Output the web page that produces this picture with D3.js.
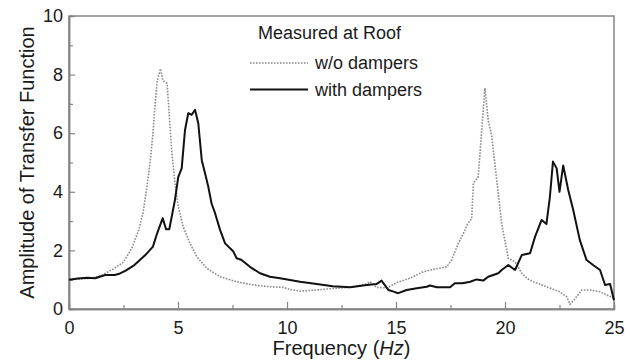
<!DOCTYPE html>
<html>
<head>
<meta charset="utf-8">
<script src="https://cdn.jsdelivr.net/npm/d3@7"></script>
<style>
  body { margin: 0; background: #fff; }
  text { font-family: "Liberation Sans", Arial, sans-serif; fill: #1a1a1a; }
</style>
</head>
<body>
<div id="chart"></div>
<script>
const FRAME_HEIGHT = 362;
const FRAME_WIDTH = 639;
const MARGINS = {left: 69, right: 25, top: 16, bottom: 53};

const VIS_HEIGHT = FRAME_HEIGHT - MARGINS.top - MARGINS.bottom;
const VIS_WIDTH = FRAME_WIDTH - MARGINS.left - MARGINS.right;

// data
const FREQ_WITHOUT = [0, 0.5, 1.0, 1.5, 2.0, 2.5, 2.9, 3.2, 3.4, 3.6, 3.75, 3.85, 3.95, 4.05, 4.2, 4.3, 4.5, 4.63, 4.71, 4.86,
  5.01, 5.24, 5.55, 5.86, 6.32, 6.93, 7.69, 8.45, 9.2, 9.8, 10.2, 10.6, 11.36, 12.1, 12.9, 13.66, 13.8, 14.1, 14.6, 15.03,
  15.64, 16.25, 16.7, 17.33, 17.55, 17.86, 18.17, 18.3, 18.47, 18.55, 18.77, 18.93, 19.08, 19.23, 19.39, 19.62, 19.85, 20.15, 20.46, 20.77,
  21.0, 21.3, 21.9, 22.5, 22.83, 22.98, 23.2, 23.52, 23.9, 24.36, 24.97];
const AMP_WITHOUT = [1.0, 1.02, 1.05, 1.15, 1.35, 1.6, 2.1, 2.7, 3.3, 4.3, 5.2, 6.0, 7.0, 7.8, 8.2, 7.8, 7.7, 6.3, 5.4, 4.3,
  3.5, 2.8, 2.24, 1.79, 1.39, 1.1, 0.93, 0.82, 0.76, 0.74, 0.66, 0.61, 0.65, 0.7, 0.74, 0.85, 0.93, 0.74, 0.72, 0.9,
  1.05, 1.27, 1.35, 1.44, 1.67, 2.24, 2.7, 2.93, 3.07, 4.3, 4.5, 6.1, 7.54, 6.45, 5.9, 4.4, 2.9, 1.73, 1.61, 1.22,
  1.05, 0.93, 0.76, 0.59, 0.42, 0.16, 0.34, 0.65, 0.65, 0.59, 0.37];

const FREQ_WITH = [0, 0.4, 0.83, 1.2, 1.66, 2.1, 2.3, 2.6, 3.0, 3.5, 3.85, 4.05, 4.3, 4.45, 4.6, 4.86, 5.01, 5.17, 5.32, 5.47,
  5.63, 5.78, 5.93, 6.09, 6.24, 6.39, 6.54, 6.7, 6.93, 7.16, 7.54, 7.69, 7.9, 8.3, 8.76, 9.22, 9.68, 10.6, 11.36, 12.1,
  12.9, 13.66, 14.1, 14.34, 14.42, 14.65, 14.86, 15.1, 15.49, 15.95, 16.41, 16.56, 16.87, 17.48, 17.7, 18.05, 18.4, 18.7, 19.0, 19.23,
  19.69, 19.85, 20.15, 20.46, 20.77, 21.15, 21.38, 21.68, 21.9, 22.06, 22.2, 22.37, 22.5, 22.67, 22.9, 23.13, 23.43, 23.74, 24.04, 24.36,
  24.59, 24.82, 25.0];
const AMP_WITH = [1.0, 1.04, 1.07, 1.05, 1.16, 1.16, 1.2, 1.31, 1.5, 1.84, 2.13, 2.6, 3.1, 2.72, 2.72, 3.72, 4.5, 4.8, 6.1, 6.68,
  6.63, 6.8, 6.34, 5.08, 4.63, 4.17, 3.6, 3.27, 2.7, 2.24, 1.96, 1.73, 1.68, 1.44, 1.22, 1.1, 1.05, 0.93, 0.85, 0.78,
  0.74, 0.82, 0.85, 0.97, 0.88, 0.65, 0.6, 0.54, 0.65, 0.71, 0.76, 0.8, 0.74, 0.74, 0.88, 0.88, 0.93, 1.01, 0.97, 1.1,
  1.22, 1.33, 1.5, 1.33, 1.84, 1.9, 2.47, 3.04, 2.9, 3.83, 5.03, 4.8, 4.0, 4.9, 4.06, 3.38, 2.36, 1.67, 1.5, 1.33,
  0.82, 0.85, 0.3];

const X_TICKS = [0, 5, 10, 15, 20, 25];
const X_MINOR = [2.5, 7.5, 12.5, 17.5, 22.5];
const Y_TICKS = [0, 2, 4, 6, 8, 10];
const Y_MINOR = [1, 3, 5, 7, 9];

const LEGEND_TITLE = "Measured at Roof";
const SERIES_NAMES = ["w/o dampers", "with dampers"];

const AXIS_COLOR = "#858585";

const FRAME = d3.select("#chart")
                .append("svg")
                  .attr("width", FRAME_WIDTH)
                  .attr("height", FRAME_HEIGHT);

const X_SCALE = d3.scaleLinear()
                  .domain([0, 25])
                  .range([0, VIS_WIDTH]);

const Y_SCALE = d3.scaleLinear()
                  .domain([0, 10])
                  .range([VIS_HEIGHT, 0]);

const PLOT = FRAME.append("g")
                  .attr("transform", "translate(" + MARGINS.left + "," + MARGINS.top + ")");

// box on top and right
PLOT.append("rect")
    .attr("x", 0)
    .attr("y", 0)
    .attr("width", VIS_WIDTH)
    .attr("height", VIS_HEIGHT)
    .attr("fill", "none")
    .attr("stroke", AXIS_COLOR)
    .attr("stroke-width", 1.5);

// axes, ticks pointing inward
function styleAxis(g) {
  g.select(".domain").attr("stroke", AXIS_COLOR).attr("stroke-width", 1.5);
  g.selectAll(".tick line").attr("stroke", AXIS_COLOR).attr("stroke-width", 1.2);
  g.selectAll(".tick text").attr("fill", "#1a1a1a").attr("font-size", "18px")
    .attr("font-family", "'Liberation Sans', Arial, sans-serif");
}

PLOT.append("g")
    .attr("transform", "translate(0," + VIS_HEIGHT + ")")
    .call(d3.axisBottom(X_SCALE).tickValues(X_MINOR).tickSize(-4).tickFormat(""))
    .call(styleAxis);

PLOT.append("g")
    .attr("transform", "translate(0," + VIS_HEIGHT + ")")
    .call(d3.axisBottom(X_SCALE).tickValues(X_TICKS).tickSizeInner(-7).tickSizeOuter(0).tickPadding(8))
    .call(styleAxis)
    .call(g => g.selectAll(".tick text").attr("dy", "0.95em"));

PLOT.append("g")
    .call(d3.axisLeft(Y_SCALE).tickValues(Y_MINOR).tickSize(-4).tickFormat(""))
    .call(styleAxis);

PLOT.append("g")
    .call(d3.axisLeft(Y_SCALE).tickValues(Y_TICKS).tickSizeInner(-6).tickSizeOuter(0).tickPadding(6))
    .call(styleAxis);

// curves
const withoutData = FREQ_WITHOUT.map((f, i) => ({f: f, a: AMP_WITHOUT[i]}));
const withData = FREQ_WITH.map((f, i) => ({f: f, a: AMP_WITH[i]}));

const LINE = d3.line()
               .x(d => X_SCALE(d.f))
               .y(d => Y_SCALE(d.a));

PLOT.append("path")
    .datum(withoutData)
    .attr("d", LINE)
    .attr("fill", "none")
    .attr("stroke", "#8a8a8a")
    .attr("stroke-width", 1.6)
    .attr("stroke-dasharray", "1.6,1.4");

PLOT.append("path")
    .datum(withData)
    .attr("d", LINE)
    .attr("fill", "none")
    .attr("stroke", "#111")
    .attr("stroke-width", 2)
    .attr("stroke-linejoin", "round");

// legend
FRAME.append("text")
     .attr("x", 258)
     .attr("y", 39)
     .attr("font-size", "18px")
     .text(LEGEND_TITLE);

const LEG = FRAME.selectAll(".leg")
                 .data(SERIES_NAMES)
                 .enter()
                 .append("g")
                   .attr("class", "leg")
                   .attr("transform", (d, i) => "translate(0," + (63 + i * 26.5) + ")");

LEG.append("line")
   .attr("x1", 250)
   .attr("x2", 308)
   .attr("stroke", (d, i) => i === 0 ? "#8a8a8a" : "#111")
   .attr("stroke-width", (d, i) => i === 0 ? 1.6 : 2)
   .attr("stroke-dasharray", (d, i) => i === 0 ? "1.6,1.4" : null);

LEG.append("text")
   .attr("x", 315)
   .attr("y", 6)
   .attr("font-size", "18px")
   .text(d => d);

// axis titles
const xTitle = FRAME.append("text")
                    .attr("x", MARGINS.left + VIS_WIDTH / 2)
                    .attr("y", 355)
                    .attr("text-anchor", "middle")
                    .attr("font-size", "20px");
xTitle.append("tspan").text("Frequency (");
xTitle.append("tspan").attr("font-style", "italic").text("Hz");
xTitle.append("tspan").text(")");

FRAME.append("text")
     .attr("transform", "translate(34," + (MARGINS.top + VIS_HEIGHT / 2) + ") rotate(-90)")
     .attr("text-anchor", "middle")
     .attr("font-size", "20px")
     .text("Amplitude of Transfer Function");
</script>
</body>
</html>
